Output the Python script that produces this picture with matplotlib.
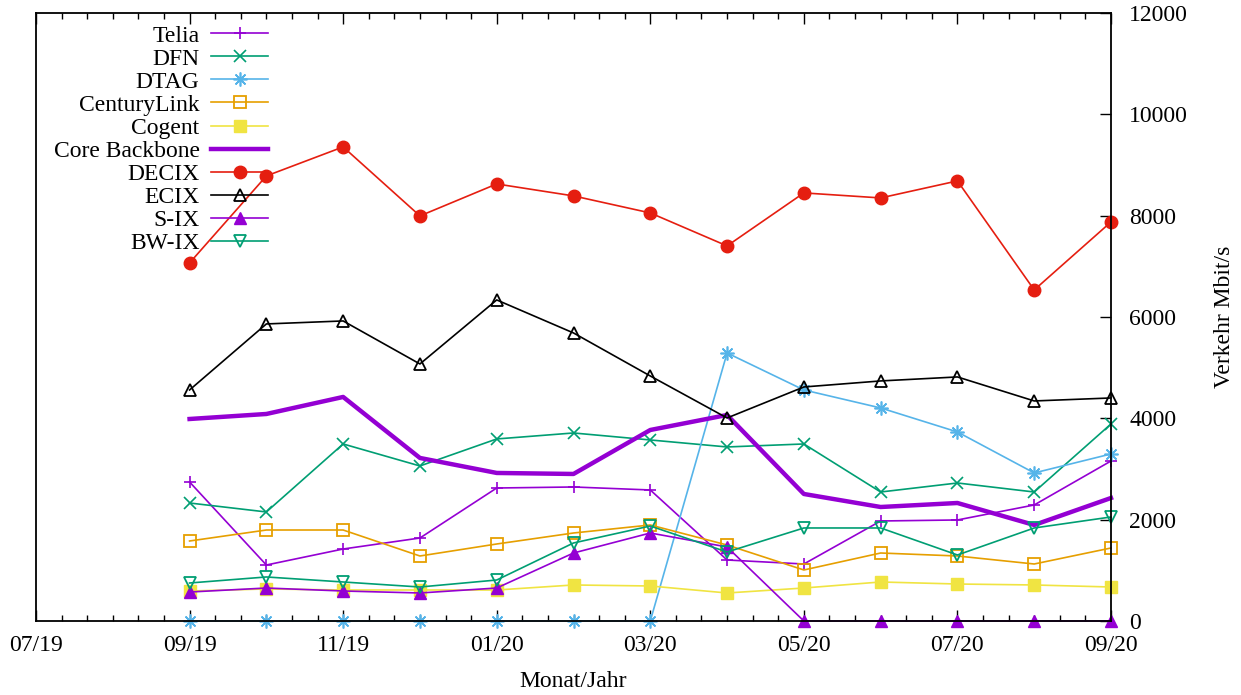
import numpy as np
import matplotlib
matplotlib.use('Agg')
import matplotlib.pyplot as plt
from matplotlib.ticker import MultipleLocator, FixedLocator

plt.rcParams['font.family'] = ['Liberation Serif', 'DejaVu Serif']
plt.rcParams['font.size'] = 17

# --- data (Mbit/s) ---
months = ['09/19', '10/19', '11/19', '12/19', '01/20', '02/20', '03/20',
          '04/20', '05/20', '06/20', '07/20', '08/20', '09/20']
tick_labels = ['07/19', '09/19', '11/19', '01/20', '03/20', '05/20', '07/20', '09/20']

telia = [2744, 1105, 1421, 1638, 2625, 2645, 2586, 1204, 1125, 1974, 1994, 2290, 3158]
dfn = [2329, 2152, 3494, 3060, 3593, 3711, 3573, 3435, 3494, 2546, 2724, 2546, 3889]
dtag = [0, 0, 0, 0, 0, 0, 0, 5290, 4560, 4205, 3731, 2922, 3297]
centurylink = [1579, 1796, 1796, 1283, 1520, 1737, 1895, 1500, 1007, 1342, 1283, 1125, 1441]
cogent = [592, 632, 612, 612, 612, 711, 691, 553, 651, 770, 730, 711, 671]
core_backbone = [3987, 4086, 4422, 3218, 2922, 2902, 3770, 4066, 2507, 2250, 2329, 1895, 2428]
decix = [7067, 8784, 9357, 7995, 8626, 8390, 8054, 7403, 8449, 8350, 8686, 6534, 7876]
ecix = [4560, 5863, 5922, 5073, 6337, 5685, 4836, 4007, 4619, 4738, 4817, 4343, 4402]
six = [572, 651, 592, 553, 651, 1342, 1737, 1461, 0, 0, 0, 0, 0]
bwix = [750, 869, 770, 671, 809, 1540, 1875, 1362, 1836, 1836, 1303, 1836, 2053]


def month_index(label):
    """'MM/YY' -> months since 07/19."""
    mm, yy = label.split('/')
    return (int(yy) - 19) * 12 + int(mm) - 7


x = np.array([month_index(m) for m in months])

series = [
    ('Telia', telia, dict(color='#9400D3', marker='+', ms=9, mew=1.2, lw=1.2)),
    ('DFN', dfn, dict(color='#009E73', marker='x', ms=8, mew=1.2, lw=1.2)),
    ('DTAG', dtag, dict(color='#56B4E9', marker=(8, 2, 0), ms=10, mew=1.2, lw=1.2)),
    ('CenturyLink', centurylink, dict(color='#E69F00', marker='s', ms=8.5, mfc='none', mew=1.3, lw=1.2)),
    ('Cogent', cogent, dict(color='#F0E442', marker='s', ms=9, lw=1.2)),
    ('Core Backbone', core_backbone, dict(color='#9400D3', lw=3.2)),
    ('DECIX', decix, dict(color='#E51E10', marker='o', ms=9, lw=1.2)),
    ('ECIX', ecix, dict(color='black', marker='^', ms=8.5, mfc='none', mew=1.3, lw=1.2)),
    ('S-IX', six, dict(color='#9400D3', marker='^', ms=8.5, lw=1.2)),
    ('BW-IX', bwix, dict(color='#009E73', marker='v', ms=8.5, mfc='none', mew=1.3, lw=1.2)),
]

fig = plt.figure(figsize=(12.41, 6.95), dpi=100)
ax = fig.add_axes([36 / 1241, 1 - 621 / 695, (1111 - 36) / 1241, (621 - 13) / 695])

for name, values, style in series:
    ax.plot(x, values, label=name, clip_on=False, **style)

# --- axes ---
ax.set_xlim(0, 14)
ax.set_ylim(0, 12000)
ax.xaxis.set_major_locator(FixedLocator([month_index(t) for t in tick_labels]))
ax.set_xticklabels(tick_labels)
ax.xaxis.set_minor_locator(MultipleLocator(1 / 3))
ax.tick_params(axis='x', which='both', direction='in', top=True, pad=10)
ax.tick_params(axis='x', which='major', length=8, width=1)
ax.tick_params(axis='x', which='minor', length=4, width=1)

ax.yaxis.set_major_locator(MultipleLocator(2000))
ax.yaxis.tick_right()
ax.tick_params(axis='y', which='both', direction='in', left=False, right=True,
               length=8, width=1, pad=13)

for sp in ax.spines.values():
    sp.set_linewidth(1.3)

ax.set_xlabel('Monat/Jahr', va='center')
ax.xaxis.set_label_coords(0.5, -0.1)
ax.set_ylabel('Verkehr Mbit/s', va='center')
ax.yaxis.set_label_position('right')
ax.yaxis.set_label_coords(1.096, 0.5)
ax.yaxis.label.set_rotation(90)

leg = ax.legend(loc='upper right', bbox_to_anchor=(268 / 1241, 1 - 25 / 695),
                bbox_transform=fig.transFigure, frameon=False, markerfirst=False,
                numpoints=1, handlelength=2.4, handletextpad=0.5,
                labelspacing=0.065, borderpad=0, borderaxespad=0)

fig.savefig('out.png', dpi=100)
